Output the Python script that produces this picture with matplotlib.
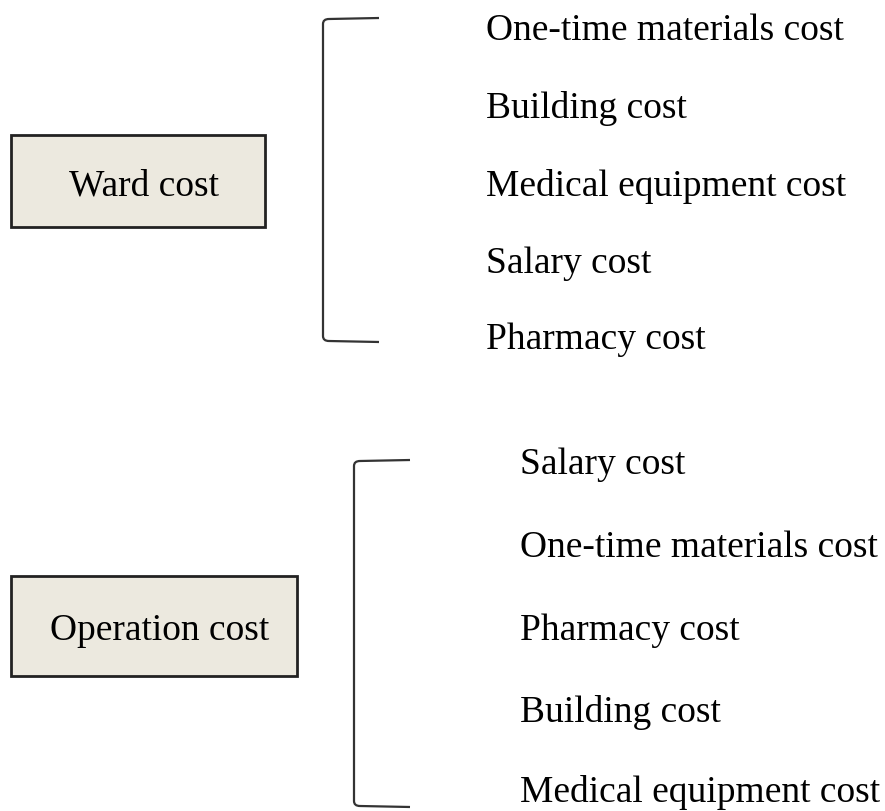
import matplotlib
matplotlib.use('Agg')
import matplotlib.pyplot as plt
from matplotlib.patches import Rectangle, PathPatch
from matplotlib.path import Path

# groups of the diagram
group_names = ['Ward cost', 'Operation cost']
ward_items = ['One-time materials cost', 'Building cost', 'Medical equipment cost',
              'Salary cost', 'Pharmacy cost']
operation_items = ['Salary cost', 'One-time materials cost', 'Pharmacy cost',
                   'Building cost', 'Medical equipment cost']

# layout (pixels, y down)
boxes = [(11, 136, 254, 92), (11, 577, 286, 100)]
box_text_x = [144, 160]
brackets = [(323, 19, 343, 379), (354, 461, 808, 410)]
item_x = [486, 520]
item_y = [[31, 109, 186, 264, 340], [465, 548, 631, 713, 793]]
items = [ward_items, operation_items]


def bracket(ax, x, y0, y1, xr):
    r = 6
    verts = [(xr, y0), (x + r, y0 + 1), (x, y0 + 1), (x, y0 + r),
             (x, y1 - r), (x, y1 - 1), (x + r, y1 - 1), (xr, y1)]
    codes = [Path.MOVETO, Path.LINETO, Path.CURVE3, Path.CURVE3,
             Path.LINETO, Path.CURVE3, Path.CURVE3, Path.LINETO]
    ax.add_patch(PathPatch(Path(verts, codes), fill=False, edgecolor='#333333', lw=1.6))


def main():
    plt.rcParams['font.family'] = ['Liberation Serif', 'DejaVu Serif']
    fig = plt.figure(figsize=(8.85, 8.12), dpi=100)
    ax = fig.add_axes([0, 0, 1, 1])
    ax.set_xlim(0, 885)
    ax.set_ylim(812, 0)
    ax.axis('off')

    for i in range(len(group_names)):
        x, y, w, h = boxes[i]
        ax.add_patch(Rectangle((x, y), w, h, facecolor='#ECE9DF', edgecolor='#222222', lw=2))
        ax.text(box_text_x[i], y + h / 2 + 4, group_names[i], fontsize=27,
                ha='center', va='center', color='#000000')
        bracket(ax, *brackets[i])
        for j in range(len(items[i])):
            ax.text(item_x[i], item_y[i][j], items[i][j], fontsize=27,
                    ha='left', va='center', color='#000000')

    fig.savefig('out.png', dpi=100, facecolor='white')


if __name__ == '__main__':
    main()
